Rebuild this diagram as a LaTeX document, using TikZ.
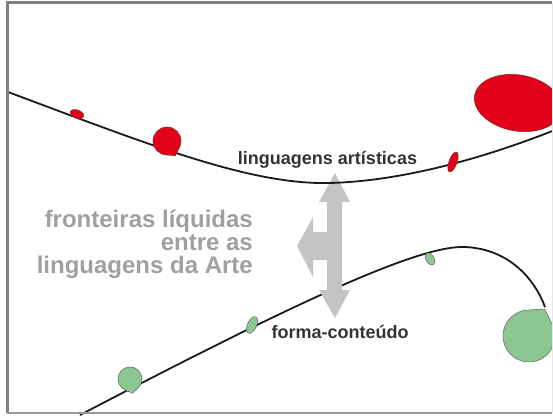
\documentclass[tikz,border=0pt]{standalone}
\usepackage{fontspec}
\setmainfont{Liberation Sans}
\usetikzlibrary{calc,positioning}

\definecolor{artred}{RGB}{226,0,26}
\definecolor{redline}{RGB}{140,50,30}
\definecolor{formgreen}{RGB}{140,198,147}
\definecolor{greenline}{RGB}{105,115,105}
\definecolor{arrowgray}{RGB}{195,196,198}
\definecolor{artgray}{RGB}{160,160,160}

\begin{document}
\begin{tikzpicture}[x=1pt, y=-1pt,
		curve/.style={line width=1.8pt, black!90},
		redblob/.style={fill=artred, draw=redline, line width=.6pt},
		greenblob/.style={fill=formgreen, draw=greenline, line width=.6pt},
		lbl/.style={font=\bfseries\fontsize{18}{18}\selectfont, text=black!80, inner sep=0pt},
		biglbl/.style={font=\bfseries\fontsize{24}{23}\selectfont, text=artgray, inner sep=0pt}]

		\useasboundingbox (0,0) rectangle (553,415);
		\clip (0,0) rectangle (553,415);

		% upper curve
		\coordinate (A1) at (8,92);
		\coordinate (A2) at (330,183);
		\coordinate (A3) at (560,128);
		% lower curve
		\coordinate (F1) at (80,415);
		\coordinate (F2) at (465,247);
		\coordinate (F3) at (545,307);

		\draw[curve] (F1) .. controls (300,300) and (420,245) .. (F2) .. controls (510,249) and (535,280) .. (F3);

		\fill[arrowgray] (335,173) -- (350,202) -- (342,202) -- (342,290) -- (350,290) -- (335,318) -- (319,290) -- (327,290) -- (327,260) -- (313,260) -- (313,277) -- (297,246) -- (313,217) -- (313,232) -- (327,232) -- (327,202) -- (319,202) -- cycle;

		\draw[curve] (A1) .. controls (150,145) and (250,185) .. (A2) .. controls (400,181) and (480,160) .. (A3);

		% drops
		\foreach \cx/\cy/\r/\a in {167/141/14/60} {
		\filldraw[redblob] ($(\cx,\cy)+(\a+30:\r)$) arc[start angle=\a+30, end angle=\a+330, radius=\r] -- ($(\cx,\cy)+(\a:1.2*\r)$) -- cycle;
		}
		\foreach \cx/\cy/\r/\a in {130/379/12/80, 529/336/26/-60} {
		\filldraw[greenblob] ($(\cx,\cy)+(\a+30:\r)$) arc[start angle=\a+30, end angle=\a+330, radius=\r] -- ($(\cx,\cy)+(\a:1.2*\r)$) -- cycle;
		}

		\filldraw[redblob, rotate around={-20:(77,114)}] (77,114) ellipse [x radius=7, y radius=4];
		\filldraw[redblob, rotate around={-20:(453,162)}] (453,162) ellipse [x radius=4, y radius=10.5];
		\filldraw[redblob, rotate around={-10:(518,103)}] (518,103) ellipse [x radius=44, y radius=28];
		\filldraw[greenblob, rotate around={-25:(252,325)}] (252,325) ellipse [x radius=4.5, y radius=9];
		\filldraw[greenblob, rotate around={30:(430,259)}] (430,259) ellipse [x radius=4, y radius=6.5];

		\node[lbl, anchor=base] (artisticas) at (327.5,164) {linguagens artísticas};
		\node[lbl, anchor=base] (forma) at (340,338) {forma-conteúdo};

		\foreach \txt [count=\k] in {fronteiras líquidas, entre as, linguagens da Arte} {
		\node[biglbl, anchor=base east] (fronteira\k) at (253,204+23*\k) {\txt};
		}

		% frame
		\draw[line width=3pt, gray] (7,413) -- (7,2.5) -- (552,2.5);
		\draw[line width=1.5pt, gray!80] (7,413) -- (552,413);
		\draw[line width=1pt, gray!20] (552,2.5) -- (552,413);
	\end{tikzpicture}
\end{document}
